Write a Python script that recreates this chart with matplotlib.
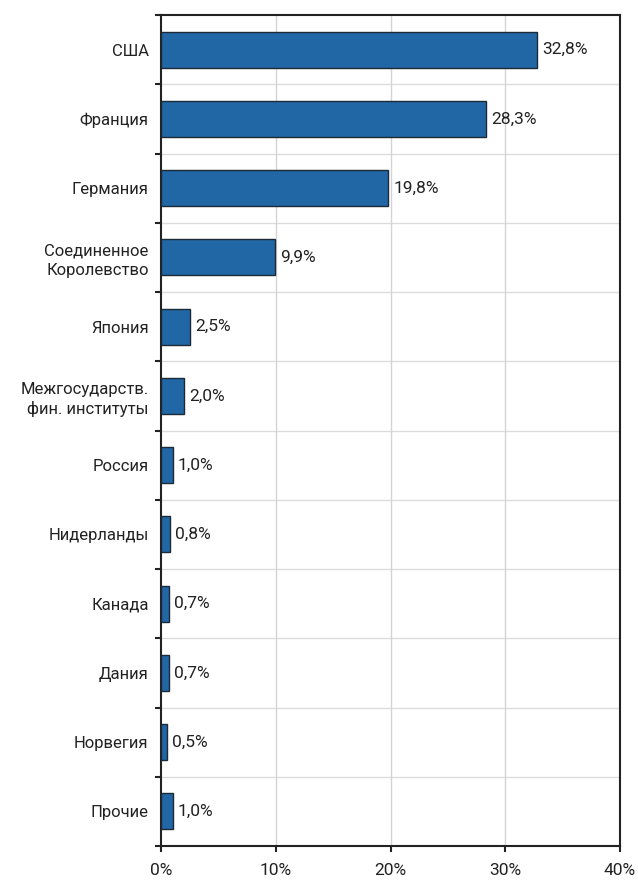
import numpy as np
import matplotlib.pyplot as plt
from matplotlib.ticker import FixedLocator

plt.rcParams['font.family'] = ['Roboto', 'DejaVu Sans']

countries = ['США', 'Франция', 'Германия', 'Соединенное\nКоролевство', 'Япония',
             'Межгосударств.\nфин. институты', 'Россия', 'Нидерланды', 'Канада',
             'Дания', 'Норвегия', 'Прочие']
shares = [32.8, 28.3, 19.8, 9.9, 2.5, 2.0, 1.0, 0.8, 0.7, 0.7, 0.5, 1.0]
x_ticks = [0, 10, 20, 30, 40]

fig = plt.figure(figsize=(6.38, 8.8), dpi=100)
ax = fig.add_axes([0.2524, 0.0386, 0.7194, 0.9443])

y = np.arange(len(countries))
bars = ax.barh(y, shares, height=0.52, color='#2166a5', edgecolor='#1c2a38',
               linewidth=1.0, zorder=3)

for bar, val in zip(bars, shares):
    ax.text(bar.get_width() + 0.45, bar.get_y() + bar.get_height() / 2,
            f'{val:.1f}%'.replace('.', ','), ha='left', va='center',
            fontsize=12.5, color='#222222')

ax.set_ylim(len(countries) - 0.5, -0.5)
ax.set_xlim(0, 40)

ax.set_yticks(y)
ax.set_yticklabels(countries, fontsize=12, color='#222222', linespacing=1.3)
ax.tick_params(axis='y', which='major', length=0, pad=9)

bounds = np.arange(len(countries) + 1) - 0.5
ax.yaxis.set_minor_locator(FixedLocator(bounds))
ax.tick_params(axis='y', which='minor', length=4.5, width=1.5, color='#222222')

ax.set_xticks(x_ticks)
ax.set_xticklabels([f'{t}%' for t in x_ticks], fontsize=12.5, color='#222222')
ax.tick_params(axis='x', length=4.5, width=1.5, color='#222222', pad=8)

for b in bounds[1:-1]:
    ax.axhline(b, color='#dcdcdc', linewidth=1.0, zorder=1)
for t in x_ticks[1:-1]:
    ax.axvline(t, color='#d4d4d4', linewidth=1.0, zorder=1)

for spine in ax.spines.values():
    spine.set_color('#222222')
    spine.set_linewidth(1.5)

plt.savefig('out.png', dpi=100)
